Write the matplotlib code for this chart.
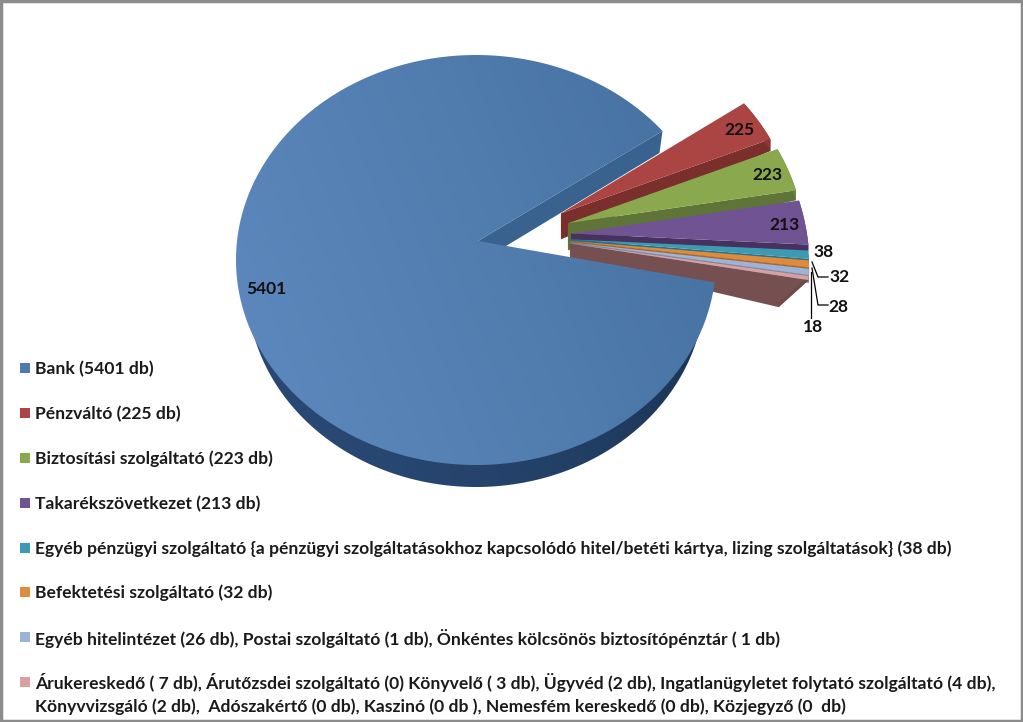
import numpy as np
from matplotlib import pyplot as plt, patches
from matplotlib.colors import LinearSegmentedColormap

# slice values, clockwise from the bank
values = [5401, 225, 223, 213, 38, 32, 28, 18]
legend_labels = [
    ['Bank (5401 db)'],
    ['Pénzváltó (225 db)'],
    ['Biztosítási szolgáltató (223 db)'],
    ['Takarékszövetkezet (213 db)'],
    ['Egyéb pénzügyi szolgáltató {a pénzügyi szolgáltatásokhoz kapcsolódó hitel/betéti kártya, lizing szolgáltatások} (38 db)'],
    ['Befektetési szolgáltató (32 db)'],
    ['Egyéb hitelintézet (26 db), Postai szolgáltató (1 db), Önkéntes kölcsönös biztosítópénztár ( 1 db)'],
    ['Árukereskedő ( 7 db), Árutőzsdei szolgáltató (0) Könyvelő ( 3 db), Ügyvéd (2 db), Ingatlanügyletet folytató szolgáltató (4 db),',
     'Könyvvizsgáló (2 db),  Adószakértő (0 db), Kaszinó (0 db ), Nemesfém kereskedő (0 db), Közjegyző (0  db)'],
]

top_colors = ['#4F7CB0', '#AA4543', '#8AA84E', '#6F5392', '#3C9BB3', '#E08B3C', '#9DB3D8', '#D8A09E']
wall_colors = ['#3A628F', '#7B2F2D', '#5F7537', '#46315F', '#2A7185', '#A8662A', '#7487A8', '#765050']
rim_colors = ['#264468', '#8A3634', '#6D8540', '#513A70', '#2F8197', '#B87330', '#8093B5', '#6E4A4A']
# wall depth at the apex and at the outer corner (dx, dy)
apex_depth = [0, 26, 27, 8, 2, 2, 2, 15]
outer_depth = [(0, 0), (0, 12), (0, 10), (0, 7), (0, 9), (0, 8), (0, 8), (-30, 27)]

# where the value labels sit
label_pos = [(266, 289), (739, 130), (767, 175), (784, 225), (824, 252), (840, 277), (838, 307), (813, 327)]
legend_y = [369, 414, 459, 504, 549, 593, 638, 683]

# apex of the bank is not the middle of its ellipse (3d view)
APEX_X, APEX_Y = 478, 241
CX, CY = 476, 260
RX, RY = 240, 205
BANK_START = 39.0
SLICE_RX, SLICE_RY = 236, 224
SLICE_START = 33.0
SLICE_SQUEEZE = 0.93
FONT = 'Lato'

fig = plt.figure(figsize=(10.23, 7.22), dpi=100)
ax = fig.add_axes([0, 0, 1, 1])


def rim_point(ang):
    # point on the slice ellipse with a bit of perspective, returned as px offset
    u = np.cos(np.radians(ang))
    v = np.sin(np.radians(ang))
    return SLICE_RX * u / (1 + 0.15 * v), -SLICE_RY * v / (1 + 0.2 * v)


def gradient_fill(poly, c1, c2, extent, zorder):
    cmap = LinearSegmentedColormap.from_list('g', [c1, c2])
    xx, yy = np.meshgrid(np.linspace(0, 1, 200), np.linspace(0, 1, 200))
    im = ax.imshow(0.75 * xx + 0.25 * (1 - yy), cmap=cmap, extent=extent, aspect='auto', zorder=zorder, vmin=0, vmax=1)
    clip = patches.Polygon(poly, closed=True, transform=ax.transData)
    im.set_clip_path(clip)


total = sum(values)
sweeps = [v / total * 360 for v in values]

# small slices first, the bank lies on top of them
ang = SLICE_START
for i in range(1, len(values)):
    a0 = ang
    a1 = ang - sweeps[i] * SLICE_SQUEEZE
    ang = a1
    mid = np.radians((a0 + a1) / 2)
    ax0 = APEX_X + 93 * np.cos(mid)
    ay0 = 236 - 50 * np.sin(mid)
    arc = np.linspace(a0, a1, 30)
    xs = []
    ys = []
    for a in arc:
        dx, dy = rim_point(a)
        xs.append(ax0 + dx)
        ys.append(ay0 + dy)
    xs = np.array(xs)
    ys = np.array(ys)
    odx, ody = outer_depth[i]
    # lower radial wall
    wall = [(ax0, ay0), (xs[-1], ys[-1]), (xs[-1] + odx, ys[-1] + ody), (ax0, ay0 + apex_depth[i])]
    ax.add_patch(patches.Polygon(wall, closed=True, facecolor=wall_colors[i], edgecolor='none', zorder=2 + i))
    # outer rim
    rim = list(zip(xs, ys)) + list(zip(xs[::-1] + odx, ys[::-1] + ody))
    ax.add_patch(patches.Polygon(rim, closed=True, facecolor=rim_colors[i], edgecolor='none', zorder=2 + i))
    # top face
    top = [(ax0, ay0)] + list(zip(xs, ys))
    ax.add_patch(patches.Polygon(top, closed=True, facecolor=top_colors[i], edgecolor='none', zorder=2 + i))

# bank: rim, cut wall, top
bank_arc = np.linspace(BANK_START, BANK_START + sweeps[0], 300)
bx = CX + RX * np.cos(np.radians(bank_arc))
by = CY - RY * np.sin(np.radians(bank_arc))

# only the lower part of the rim shows
rim_arc = np.linspace(190, 350, 200)
rim_x = CX + 229 * np.cos(np.radians(rim_arc))
rim_y = 287 - 200 * np.sin(np.radians(rim_arc))
gradient_fill(list(zip(rim_x, rim_y)), '#2C4E7C', '#1B3352', (240, 715, 490, 300), 12)

wall = [(APEX_X, APEX_Y), (bx[0], by[0]), (bx[0] - 3, by[0] + 22), (APEX_X, APEX_Y + 22)]
ax.add_patch(patches.Polygon(wall, closed=True, facecolor=wall_colors[0], edgecolor='none', zorder=13))

bank_poly = [(APEX_X, APEX_Y)] + list(zip(bx, by))
gradient_fill(bank_poly, '#5F8AC0', '#44709F', (230, 725, 470, 50), 14)

# value labels
for v, pos in zip(values, label_pos):
    ax.text(pos[0], pos[1], str(v), fontsize=12.5, fontweight='bold', family=FONT, color='#111111',
            ha='center', va='center', zorder=20)

# leader lines of the thin slices
ax.plot([812, 818, 828], [262, 277, 277], color='black', lw=0.9, zorder=19)
ax.plot([812, 818, 828], [268, 305, 305], color='black', lw=0.9, zorder=19)
ax.plot([811, 811], [272, 318], color='black', lw=0.9, zorder=19)

# legend
for i, lines in enumerate(legend_labels):
    y = legend_y[i]
    ax.add_patch(patches.Rectangle((20, y - 6), 10, 10, facecolor=top_colors[i], edgecolor='none', zorder=5))
    for j, line in enumerate(lines):
        ax.text(35, y + j * 23.5, line, fontsize=12.6, fontweight='bold', family=FONT, color='#1a1a1a',
                ha='left', va='center', zorder=20)

# chart frame
ax.add_patch(patches.Rectangle((1, 1), 1021, 720, facecolor='none', edgecolor='#8C8C8C', linewidth=2.5, zorder=30))

ax.set_xlim(0, 1023)
ax.set_ylim(722, 0)
ax.axis('off')
fig.savefig('out.png', dpi=100, facecolor='white')
